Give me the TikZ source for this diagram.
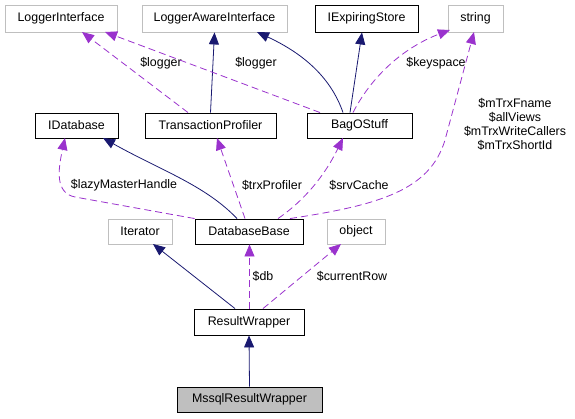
\documentclass[tikz,border=0pt]{standalone}
\usepackage{fontspec}
\setmainfont{Liberation Sans}
\usetikzlibrary{arrows.meta}
\definecolor{inhblue}{RGB}{25,25,112}
\definecolor{usepurple}{RGB}{154,50,205}
\definecolor{extgray}{RGB}{191,191,191}

\begin{document}
\begin{tikzpicture}[
      x=1pt, y=-1pt,
      font=\fontsize{12.4}{14}\selectfont,
      cls/.style={draw=black, line width=0.9pt, minimum height=25pt,
                  inner sep=0pt, fill=white},
      ext/.style={cls, draw=extgray},
      focus/.style={cls, fill=extgray},
      inherit/.style={draw=inhblue, line width=0.8pt,
                      -{Triangle[length=12pt,width=10pt]}},
      uses/.style={draw=usepurple, line width=0.8pt, dash pattern=on 7pt off 4pt,
                   -{Triangle[length=12pt,width=10pt]}},
      lbl/.style={inner sep=0pt, align=center},
    ]
    \useasboundingbox (0,0) rectangle (575,419);

    % top row
    \node[ext, minimum width=112pt, minimum height=27pt] (logger) at (61,18.5) {LoggerInterface};
    \node[ext, minimum width=145pt, minimum height=27pt] (aware) at (214.5,18.5) {LoggerAwareInterface};
    \node[cls, minimum width=103pt, minimum height=27pt] (expiring) at (366.5,18.5) {IExpiringStore};
    \node[ext, minimum width=55pt, minimum height=27pt] (string) at (475.5,18.5) {string};

    % second row
    \node[cls, minimum width=83pt] (idb) at (76.5,125.5) {IDatabase};
    \node[cls, minimum width=131pt] (profiler) at (210.5,125.5) {TransactionProfiler};
    \node[cls, minimum width=105pt] (bag) at (359.5,125.5) {BagOStuff};

    % third row
    \node[ext, minimum width=64pt] (iter) at (140,231.5) {Iterator};
    \node[cls, minimum width=108pt] (dbbase) at (249,231.5) {DatabaseBase};
    \node[ext, minimum width=58pt] (object) at (356,231.5) {object};

    % bottom
    \node[cls, minimum width=110pt, minimum height=26pt] (wrapper) at (249,322) {ResultWrapper};
    \node[focus, minimum width=145pt] (mssql) at (249.5,399.5) {MssqlResultWrapper};

    % inheritance
    \draw[inherit] (profiler.north) -- (aware.south);
    \draw[inherit] ([xshift=-16.5pt]bag.north) .. controls (330,75) and (300,52) .. (257,32);
    \draw[inherit] ([xshift=-9.5pt]bag.north) -- ([xshift=-4.5pt]expiring.south);
    \draw[inherit] ([xshift=-12pt]dbbase.north) .. controls (205,185) and (160,170) .. (103,138);
    \draw[inherit] ([xshift=-14pt]wrapper.north) -- (153,244);
    \draw[inherit] (mssql.north) -- (wrapper.south);

    % members
    \draw[uses] ([xshift=-22.5pt]profiler.north) -- (82,32);
    \node[lbl] (l1) at (161,63) {\$logger};
    \draw[uses] ([xshift=-39.5pt]bag.north) -- (105,32);
    \node[lbl] (l2) at (256,63) {\$logger};
    \draw[uses] ([xshift=-6.5pt]bag.north) .. controls (375,70) and (410,45) .. (450,30);
    \node[lbl] (l3) at (436,63) {\$keyspace};
    \draw[uses] ([xshift=41pt]dbbase.north) .. controls (380,205) and (430,190) .. (445,140) -- (474,32);
    \node[lbl] (l4) at (515,124) {\$mTrxFname\\\$allViews\\\$mTrxWriteCallers\\\$mTrxShortId};
    \draw[uses] (dbbase.north west) -- (75,197) .. controls (55,193) and (58,170) .. (65,138);
    \node[lbl] (l5) at (124,185) {\$lazyMasterHandle};
    \draw[uses] ([xshift=-4pt]dbbase.north) -- (217,138);
    \node[lbl] (l6) at (272,185) {\$trxProfiler};
    \draw[uses] ([xshift=29pt]dbbase.north) .. controls (305,200) and (325,175) .. (343,138);
    \node[lbl] (l7) at (359,185) {\$srvCache};
    \draw[uses] ([xshift=0.5pt]wrapper.north) -- ([xshift=0.5pt]dbbase.south);
    \node[lbl] (l8) at (263,276) {\$db};
    \draw[uses] ([xshift=14pt]wrapper.north) -- (341,244);
    \node[lbl] (l9) at (352,276) {\$currentRow};
  \end{tikzpicture}
\end{document}
